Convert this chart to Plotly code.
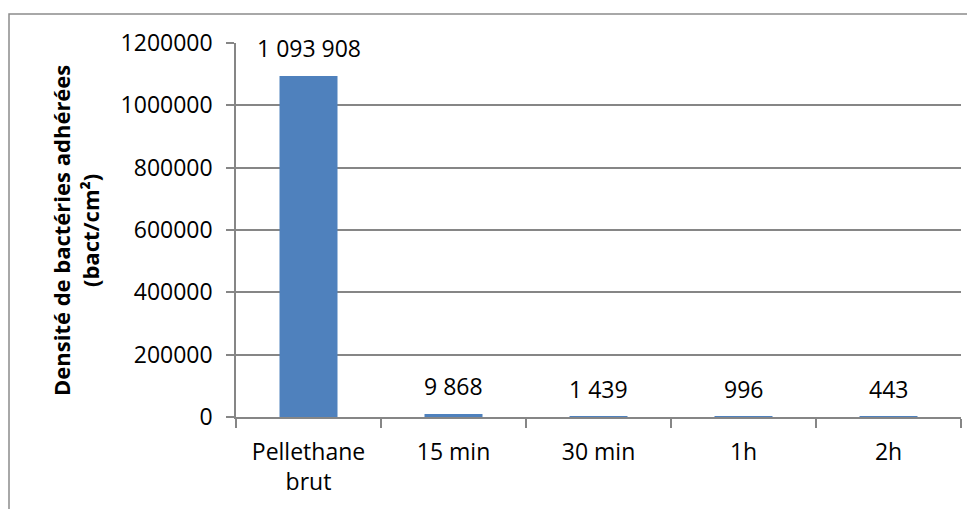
import plotly.graph_objects as go

# data
categories = ['Pellethane<br>brut', '15 min', '30 min', '1h', '2h']
density = [1093908, 9868, 1439, 996, 443]
value_labels = ['1 093 908', '9 868', '1 439', '996', '443']
y_ticks = [0, 200000, 400000, 600000, 800000, 1000000, 1200000]

# the page body adds an 8px margin, so size the figure to fit the window
OFF = 8
W, H = 975 - OFF, 509 - OFF
ml, mt = 236 - OFF, 43 - OFF
pw, ph = 961 - 236, 417 - 43
mr, mb = W - ml - pw, H - mt - ph

font = 'Open Sans'
grid = '#868686'
fsize = 23


def px_x(x):  # screen pixel -> paper x
    return (x - OFF - ml) / pw


def px_y(y):  # screen pixel -> paper y
    return (mt + ph - (y - OFF)) / ph


fig = go.Figure()
fig.add_trace(go.Bar(
    x=categories,
    y=density,
    marker=dict(color='#4F81BD', line=dict(width=0)),
    width=0.4,
    showlegend=False,
))

# data labels above the bars
for cat, val, lab in zip(categories, density, value_labels):
    fig.add_annotation(
        x=cat, y=val, text=lab, showarrow=False,
        yanchor='bottom', yshift=10,
        font=dict(family=font, size=fsize, color='black'),
    )

# rotated y title
fig.add_annotation(
    xref='paper', yref='paper',
    x=px_x(75), y=px_y(231),
    text='<b>Densité de bactéries adhérées<br>(bact/cm²)</b>',
    textangle=-90, showarrow=False,
    xanchor='center', yanchor='middle',
    font=dict(family=font, size=22, color='black'),
)

# chart border (cut off on the right and bottom in the reference)
fig.add_shape(
    type='rect', xref='paper', yref='paper',
    x0=px_x(9), x1=px_x(1000),
    y0=px_y(540), y1=px_y(14),
    line=dict(color='#8c8c8c', width=1.5),
)

fig.update_layout(
    width=W, height=H,
    margin=dict(l=ml, r=mr, t=mt, b=mb, autoexpand=False),
    paper_bgcolor='white', plot_bgcolor='white',
    font=dict(family=font, size=fsize, color='black'),
    bargap=0.6,
)
fig.update_xaxes(
    type='category', automargin=False,
    showline=True, linecolor=grid, linewidth=1.5,
    ticks='outside', tickson='boundaries', ticklen=9,
    tickcolor=grid, tickwidth=1.5,
    showgrid=False, ticklabelstandoff=14,
    tickfont=dict(family=font, size=fsize, color='black'),
)
fig.update_yaxes(
    range=[0, 1200000], automargin=False,
    tickvals=y_ticks, tickformat='d',
    showline=True, linecolor=grid, linewidth=1.5,
    ticks='outside', ticklen=8, tickcolor=grid, tickwidth=1.5,
    showgrid=True, gridcolor=grid, gridwidth=1.5,
    zeroline=False, ticklabelstandoff=9,
    tickfont=dict(family=font, size=fsize, color='black'),
)

fig.write_html('out.html')
